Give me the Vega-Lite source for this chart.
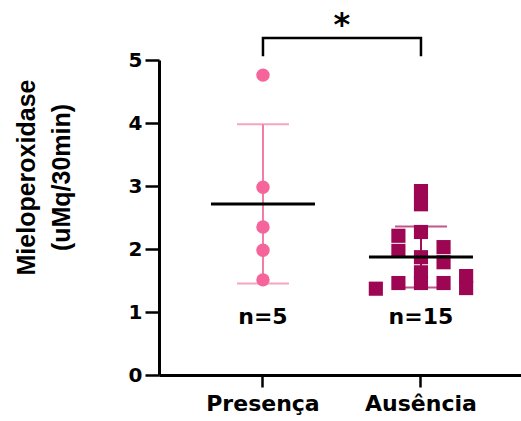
{
  "$schema": "https://vega.github.io/schema/vega-lite/v6.json",
  "autosize": "none",
  "padding": {"left": 159, "top": 60, "right": 0, "bottom": 46},
  "width": 362,
  "height": 315,
  "background": "white",
  "config": {"view": {"stroke": null}},
  "datasets": {
    "pts": [
      {"grupo": "Presença", "v": 4.76, "dx": 0},
      {"grupo": "Presença", "v": 2.98, "dx": 0},
      {"grupo": "Presença", "v": 2.35, "dx": 0},
      {"grupo": "Presença", "v": 1.98, "dx": 0},
      {"grupo": "Presença", "v": 1.51, "dx": 0},
      {"grupo": "Ausência", "v": 1.37, "dx": -2},
      {"grupo": "Ausência", "v": 2.21, "dx": -1},
      {"grupo": "Ausência", "v": 1.97, "dx": -1},
      {"grupo": "Ausência", "v": 1.46, "dx": -1},
      {"grupo": "Ausência", "v": 2.92, "dx": 0},
      {"grupo": "Ausência", "v": 2.71, "dx": 0},
      {"grupo": "Ausência", "v": 2.27, "dx": 0},
      {"grupo": "Ausência", "v": 1.87, "dx": 0},
      {"grupo": "Ausência", "v": 1.63, "dx": 0},
      {"grupo": "Ausência", "v": 1.46, "dx": 0},
      {"grupo": "Ausência", "v": 2.03, "dx": 1},
      {"grupo": "Ausência", "v": 1.79, "dx": 1},
      {"grupo": "Ausência", "v": 1.46, "dx": 1},
      {"grupo": "Ausência", "v": 1.57, "dx": 2},
      {"grupo": "Ausência", "v": 1.38, "dx": 2}
    ],
    "ns": [
      {"grupo": "Presença", "v": 0.92, "label": "n=5"},
      {"grupo": "Ausência", "v": 0.92, "label": "n=15"}
    ],
    "bracket": [
      {"grupo": "Presença", "v": 5.08, "ord": 1},
      {"grupo": "Presença", "v": 5.35, "ord": 2},
      {"grupo": "Ausência", "v": 5.35, "ord": 3},
      {"grupo": "Ausência", "v": 5.08, "ord": 4}
    ],
    "star": [
      {"grupo": "Presença", "v": 5.66, "label": "*"}
    ]
  },
  "encoding": {
    "x": {
      "field": "grupo",
      "type": "nominal",
      "sort": ["Presença", "Ausência"],
      "scale": {"domain": ["Presença", "Ausência"], "paddingInner": 0, "paddingOuter": 0.1456, "align": 0.543},
      "axis": {
        "title": null,
        "labelAngle": 0,
        "domainWidth": 3,
        "domainColor": "black",
        "tickSize": 12,
        "tickWidth": 2.5,
        "tickColor": "black",
        "labelFont": "DejaVu Sans",
        "labelFontWeight": "bold",
        "labelFontSize": 22,
        "labelColor": "black",
        "labelPadding": 6
      }
    },
    "y": {
      "field": "v",
      "type": "quantitative",
      "scale": {"domain": [0, 5], "nice": false},
      "axis": {
        "values": [0, 1, 2, 3, 4, 5],
        "grid": false,
        "domainWidth": 3,
        "domainColor": "black",
        "tickSize": 14,
        "tickWidth": 2.5,
        "tickColor": "black",
        "labelFont": "DejaVu Sans",
        "labelFontWeight": "bold",
        "labelFontSize": 20,
        "labelColor": "black",
        "labelPadding": 3,
        "title": ["Mieloperoxidase", "(uMq/30min)"],
        "titleFont": "Liberation Sans",
        "titleFontWeight": "bold",
        "titleFontSize": 25,
        "titleColor": "black",
        "titleLineHeight": 35,
        "titlePadding": 54,
        "titleY": 117
      }
    }
  },
  "layer": [
    {
      "data": {"name": "pts"},
      "mark": {"type": "errorbar", "extent": "stdev", "thickness": 2, "ticks": {"size": 52, "thickness": 2}},
      "encoding": {
        "color": {"field": "grupo", "type": "nominal", "scale": {"domain": ["Presença", "Ausência"], "range": ["#F47DA6", "#A2105A"]}, "legend": null}
      }
    },
    {
      "data": {"name": "pts"},
      "mark": {"type": "point", "filled": true, "opacity": 1},
      "encoding": {
        "xOffset": {"field": "dx", "type": "quantitative", "scale": {"domain": [-3.5, 3.5], "range": [0, 158]}},
        "shape": {"field": "grupo", "type": "nominal", "scale": {"domain": ["Presença", "Ausência"], "range": ["circle", "square"]}, "legend": null},
        "size": {"field": "grupo", "type": "nominal", "scale": {"domain": ["Presença", "Ausência"], "range": [180, 200]}, "legend": null},
        "fill": {"field": "grupo", "type": "nominal", "scale": {"domain": ["Presença", "Ausência"], "range": ["#F5649A", "#9C0652"]}, "legend": null}
      }
    },
    {
      "data": {"name": "pts"},
      "mark": {"type": "tick", "color": "black", "size": 104, "thickness": 3, "opacity": 1},
      "encoding": {
        "y": {"field": "v", "type": "quantitative", "aggregate": "mean"}
      }
    },
    {
      "data": {"name": "ns"},
      "mark": {"type": "text", "font": "DejaVu Sans", "fontWeight": "bold", "fontSize": 22, "color": "black", "baseline": "middle"},
      "encoding": {"text": {"field": "label"}}
    },
    {
      "data": {"name": "bracket"},
      "mark": {"type": "line", "color": "black", "strokeWidth": 2.5, "clip": false, "strokeCap": "square"},
      "encoding": {"order": {"field": "ord", "type": "quantitative"}}
    },
    {
      "data": {"name": "star"},
      "mark": {"type": "text", "font": "DejaVu Sans", "fontWeight": "bold", "fontSize": 32, "color": "black", "baseline": "middle", "dx": 79, "dy": 7},
      "encoding": {"text": {"field": "label"}}
    }
  ]
}
